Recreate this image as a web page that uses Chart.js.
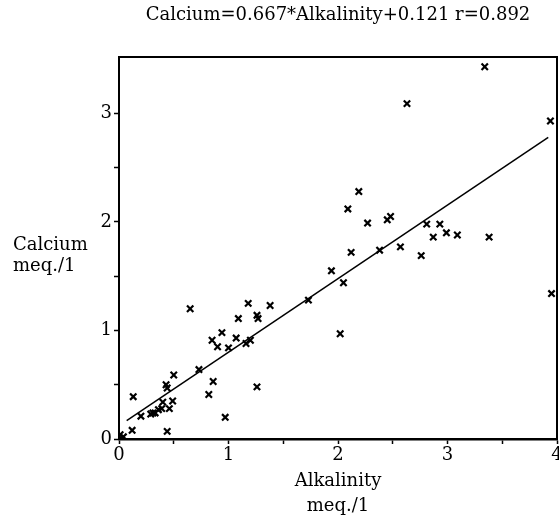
<!DOCTYPE html>
<html>
<head>
<meta charset="utf-8">
<script src="https://cdn.jsdelivr.net/npm/chart.js@4/dist/chart.umd.min.js"></script>
<style>
  html, body { margin: 0; padding: 0; background: #fff; }
  #wrap { width: 559px; height: 517px; }
</style>
</head>
<body>
<div id="wrap"><canvas id="myChart" width="559" height="517"></canvas></div>
<script>
// values (meq./1)
const alkalinity = [
  3.34, 2.63, 3.94, 2.19, 2.09, 2.27, 2.45, 2.48, 2.81, 2.93,
  2.87, 2.99, 3.09, 3.38, 2.57, 2.38, 2.12, 1.73, 1.94, 2.05,
  2.76, 2.02, 3.95, 0.65, 1.18, 1.38, 1.09, 1.26, 1.27, 0.94,
  0.85, 1.07, 0.90, 1.00, 1.16, 1.20, 0.73, 0.50, 0.43, 0.44,
  0.86, 0.82, 1.26, 0.13, 0.49, 0.46, 0.40, 0.39, 0.36, 0.31,
  0.29, 0.33, 0.20, 0.97, 0.12, 0.44, 0.01, 0.04, 0.00
];
const calcium = [
  3.43, 3.09, 2.93, 2.28, 2.12, 1.99, 2.02, 2.05, 1.98, 1.98,
  1.86, 1.90, 1.88, 1.86, 1.77, 1.74, 1.72, 1.28, 1.55, 1.44,
  1.69, 0.97, 1.34, 1.20, 1.25, 1.23, 1.11, 1.14, 1.11, 0.98,
  0.91, 0.93, 0.85, 0.84, 0.88, 0.91, 0.64, 0.59, 0.50, 0.47,
  0.53, 0.41, 0.48, 0.39, 0.35, 0.28, 0.34, 0.28, 0.27, 0.24,
  0.23, 0.24, 0.21, 0.20, 0.08, 0.07, 0.04, 0.02, 0.00
];
// regression line end points
const fitX = [0.07, 3.92];
const fitY = [0.17, 2.78];

const titleText = 'Calcium=0.667*Alkalinity+0.121 r=0.892';
const xTitle = ['Alkalinity', 'meq./1'];
const yTitle = ['Calcium', 'meq./1'];

const serif = "'DejaVu Serif', serif";

const points = alkalinity.map((a, i) => ({ x: a, y: calcium[i] }));
const fit = fitX.map((a, i) => ({ x: a, y: fitY[i] }));

const keepHalfSteps = scale => {
  scale.ticks = scale.ticks.filter(t => Math.abs(t.value * 2 - Math.round(t.value * 2)) < 1e-6);
};

// frame on top/right + horizontal y label
const extras = {
  id: 'extras',
  afterDraw(chart) {
    const { ctx, chartArea: a } = chart;
    ctx.save();
    ctx.strokeStyle = '#000';
    ctx.lineWidth = 2;
    ctx.beginPath();
    ctx.moveTo(a.left, a.top);
    ctx.lineTo(a.right, a.top);
    ctx.lineTo(a.right, a.bottom);
    ctx.stroke();
    ctx.fillStyle = '#000';
    ctx.font = '18px ' + serif;
    ctx.textBaseline = 'middle';
    ctx.textAlign = 'left';
    ctx.fillText(yTitle[0], 13, 245);
    ctx.fillText(yTitle[1], 13, 266);
    ctx.restore();
  }
};

new Chart(document.getElementById('myChart').getContext('2d'), {
  type: 'scatter',
  data: {
    datasets: [
      {
        data: points,
        pointStyle: 'crossRot',
        pointRadius: 4.5,
        pointBorderWidth: 2.2,
        borderColor: '#000',
        backgroundColor: '#000'
      },
      {
        type: 'line',
        data: fit,
        borderColor: '#000',
        borderWidth: 1.5,
        pointRadius: 0,
        fill: false
      }
    ]
  },
  options: {
    responsive: false,
    animation: false,
    layout: { autoPadding: false, padding: { left: 0, right: 2, top: 0, bottom: 0 } },
    plugins: {
      legend: { display: false },
      tooltip: { enabled: false },
      title: {
        display: true,
        text: titleText,
        fullSize: false,
        color: '#000',
        font: { family: serif, size: 18, weight: 'normal', lineHeight: 1.2 },
        padding: { top: 5, bottom: 30.4 }
      }
    },
    scales: {
      x: {
        type: 'linear',
        min: 0,
        max: 4,
        border: { display: true, color: '#000', width: 2.5 },
        grid: { drawOnChartArea: false, drawTicks: true, tickLength: 5, tickColor: '#000', tickWidth: 1.5 },
        ticks: {
          stepSize: 0.5,
          autoSkip: false,
          maxRotation: 0,
          color: '#000',
          padding: 1,
          font: { family: serif, size: 18 },
          callback: v => (Math.abs(v - Math.round(v)) < 1e-6 ? String(Math.round(v)) : '')
        },
        afterBuildTicks: keepHalfSteps,
        title: {
          display: true,
          text: xTitle,
          color: '#000',
          font: { family: serif, size: 18, lineHeight: 25 / 18 },
          padding: { top: 0, bottom: -2 }
        },
        afterFit(scale) {
          scale.height = 78;
          scale.paddingLeft = 0;
          scale.paddingRight = 0;
        }
      },
      y: {
        type: 'linear',
        min: 0,
        max: 3.52,
        border: { display: true, color: '#000', width: 2 },
        grid: { drawOnChartArea: false, drawTicks: true, tickLength: 5, tickColor: '#000', tickWidth: 1.5 },
        ticks: {
          stepSize: 0.5,
          autoSkip: false,
          color: '#000',
          padding: 2,
          font: { family: serif, size: 18 },
          callback: v => (Math.abs(v - Math.round(v)) < 1e-6 ? String(Math.round(v)) : '')
        },
        afterBuildTicks: keepHalfSteps,
        afterFit(scale) {
          scale.width = 119;
          scale.paddingTop = 0;
          scale.paddingBottom = 0;
        }
      }
    }
  },
  plugins: [extras]
});
</script>
</body>
</html>
